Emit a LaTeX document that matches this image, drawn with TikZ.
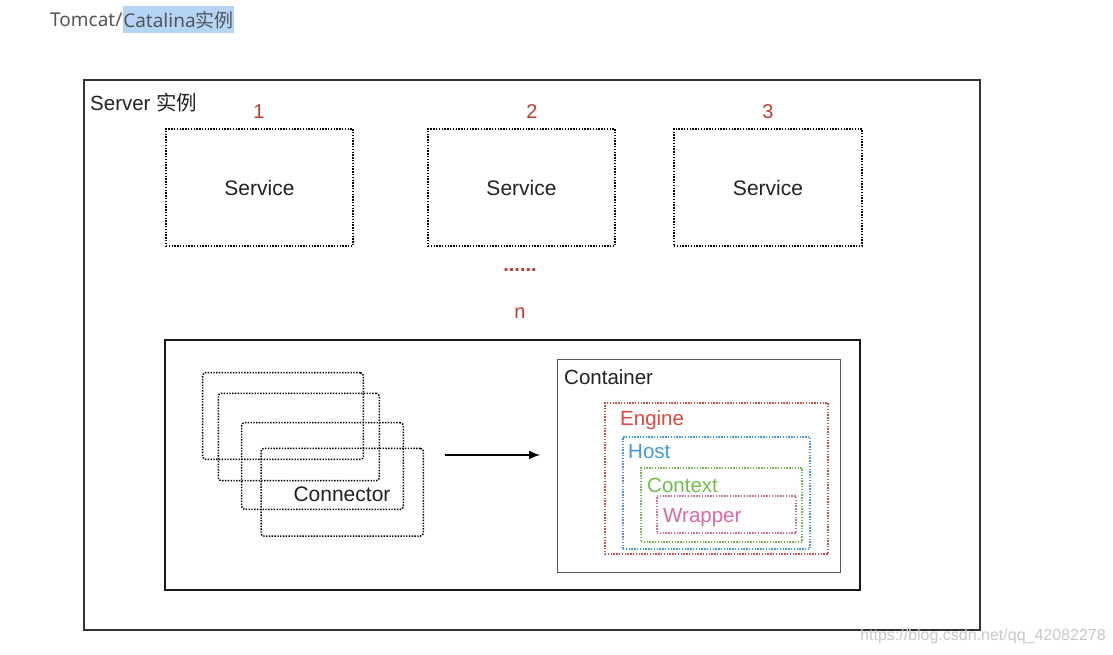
\documentclass[tikz,border=0pt]{standalone}
\usepackage{fontspec}
\setmainfont{Liberation Sans}
\newfontfamily\cjk{Noto Sans CJK SC}
\newfontfamily\titlefont{Noto Sans}
\usetikzlibrary{arrows.meta}
\definecolor{numred}{HTML}{C8372D}
\definecolor{engred}{HTML}{E0463A}
\definecolor{hostblue}{HTML}{3D9BE9}
\definecolor{ctxgreen}{HTML}{6CC04A}
\definecolor{wrappink}{HTML}{E066A0}
\definecolor{hilite}{HTML}{B5D5F7}
\definecolor{titlegray}{HTML}{555555}
\definecolor{wmgray}{HTML}{C8C8C8}
\definecolor{txt}{HTML}{222222}
\tikzset{
  box/.style={draw, inner sep=0pt, outer sep=0pt, rectangle},
  dotbox/.style={box, line width=1.5pt, dash pattern=on 1.4pt off 1.4pt},
  svcbox/.style={dotbox, black, text=txt, font=\fontsize{21}{25}\selectfont},
  connbox/.style={dotbox, black, rounded corners=3pt},
  num/.style={text=numred, font=\fontsize{20}{24}\selectfont},
  lbl/.style={anchor=west, inner sep=0pt, font=\fontsize{20.5}{24}\selectfont},
  arrowline/.style={line width=1.5pt, -{Latex[length=11pt,width=9pt]}},
}
\begin{document}
\begin{tikzpicture}[x=1pt,y=-1pt]
\useasboundingbox (0,0) rectangle (1113,655);
% title
\node[anchor=west, inner sep=0pt, text=titlegray, font=\titlefont\fontsize{19}{23}\selectfont] (t1) at (50,20) {Tomcat/};
\node[anchor=west, inner xsep=0.5pt, inner ysep=0pt, minimum height=27pt, fill=hilite, text=titlegray, font=\titlefont\fontsize{19}{23}\selectfont] (t2) at (t1.east) {Catalina{\cjk 实例}};
% server
\node[box, line width=2pt, draw=black!80, minimum width=896pt, minimum height=550pt] (server) at (532,355) {};
\node[lbl, text=txt] (serverlbl) at (90,103) {Server {\cjk 实例}};
% services
\node[svcbox, minimum width=187pt, minimum height=117pt] (s1) at (259.5,187.5) {\raisebox{-2pt}{Service}};
\node[svcbox, minimum width=187pt, minimum height=117pt] (s2) at (521.5,187.5) {\raisebox{-2pt}{Service}};
\node[svcbox, minimum width=188pt, minimum height=117pt] (s3) at (768,187.5) {\raisebox{-2pt}{Service}};
\node[num] (n1) at (259,112) {1};
\node[num] (n2) at (532,112) {2};
\node[num] (n3) at (768,112) {3};
\node[num] (dots) at (520,270) {\textbf{......}};
\node[num] (nn) at (520,313) {n};
% service n
\node[box, line width=2pt, draw=black!90, minimum width=695pt, minimum height=250pt] (svcn) at (512.5,465) {};
% connectors
\node[connbox, minimum width=160.6pt, minimum height=86.6pt] (ca) at (283,416) {};
\node[connbox, minimum width=161pt, minimum height=87.4pt] (cb) at (298.8,437) {};
\node[connbox, minimum width=161.6pt, minimum height=86.6pt] (cc) at (322.5,466) {};
\node[connbox, minimum width=162.3pt, minimum height=87.7pt] (cd) at (342.2,492.2) {};
\node[inner sep=0pt, text=txt, font=\fontsize{21}{25}\selectfont] (connlbl) at (342,494) {Connector};
% container
\node[box, line width=1pt, draw=black!65, minimum width=283pt, minimum height=213pt] (cont) at (698.5,465.5) {};
\node[lbl, text=txt] (contlbl) at (564,377) {Container};
\node[dotbox, draw=engred, minimum width=223pt, minimum height=151pt] (engine) at (716.5,478.5) {};
\node[lbl, text=engred] (englbl) at (620,420) {Engine};
\node[dotbox, draw=hostblue, minimum width=187pt, minimum height=112pt] (host) at (716.5,493) {};
\node[lbl, text=hostblue] (hostlbl) at (628,452) {Host};
\node[dotbox, draw=ctxgreen, minimum width=161pt, minimum height=74pt] (ctx) at (721.5,505) {};
\node[lbl, text=ctxgreen] (ctxlbl) at (647,485) {Context};
\node[dotbox, draw=wrappink, minimum width=139pt, minimum height=37pt] (wrap) at (726.5,514.5) {};
\node[lbl, text=wrappink] (wraplbl) at (663,518) {Wrapper};
% arrow
\coordinate (a1) at (445,455);
\coordinate (a2) at (540,455);
\draw[arrowline] (a1) -- (a2);
% watermark
\node[anchor=west, inner sep=0pt, text=wmgray, font=\fontsize{16}{19}\selectfont] (wm) at (860,636) {https://blog.csdn.net/qq\_42082278};
\end{tikzpicture}
\end{document}
